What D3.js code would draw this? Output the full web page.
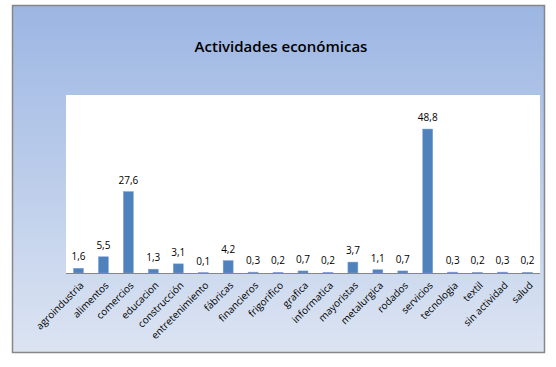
<!DOCTYPE html>
<meta charset="utf-8">
<script src="https://cdn.jsdelivr.net/npm/d3@7"></script>
<style>
body { margin: 0; background: #fff; }
text { font-family: "Open Sans", sans-serif; fill: #000; }
</style>
<body>
<script>

var categorias = ["agroindustria", "alimentos", "comercios", "educacion", "construcción",
  "entretenimiento", "fábricas", "financieros", "frigorifico", "grafica", "informatica",
  "mayoristas", "metalurgica", "rodados", "servicios", "tecnologia", "textil",
  "sin actividad", "salud"];
var valores = [1.6, 5.5, 27.6, 1.3, 3.1, 0.1, 4.2, 0.3, 0.2, 0.7, 0.2, 3.7, 1.1, 0.7, 48.8, 0.3, 0.2, 0.3, 0.2];
var titulo = "Actividades económicas";

var width = 556, height = 367;
var plot = {left: 66, right: 540, top: 95, bottom: 273};

var svg = d3.select("body").append("svg")
    .attr("width", width)
    .attr("height", height);

var grad = svg.append("defs").append("linearGradient")
    .attr("id", "bg")
    .attr("x1", 0).attr("y1", 0).attr("x2", 0).attr("y2", 1);
grad.append("stop").attr("offset", "0%").attr("stop-color", "#9cb6e3");
grad.append("stop").attr("offset", "100%").attr("stop-color", "#dce4f2");

// chart area
svg.append("rect")
    .attr("x", 12.5).attr("y", 5.5)
    .attr("width", 532).attr("height", 347)
    .attr("fill", "url(#bg)")
    .attr("stroke", "#878787")
    .attr("stroke-width", 1.5);

// plot area
svg.append("rect")
    .attr("x", plot.left).attr("y", plot.top)
    .attr("width", plot.right - plot.left).attr("height", plot.bottom - plot.top)
    .attr("fill", "#fff");

svg.append("text")
    .attr("x", 281)
    .attr("y", 52)
    .attr("text-anchor", "middle")
    .style("font-size", "15px")
    .style("font-weight", "600")
    .text(titulo);

var x = d3.scaleBand()
    .domain(categorias)
    .range([plot.left, plot.right])
    .paddingInner(0.6)
    .paddingOuter(0.3);

var y = d3.scaleLinear()
    .domain([0, 60])
    .range([plot.bottom, plot.bottom - 177]);

var datos = categorias.map(function(c, i) { return {cat: c, val: valores[i]}; });

svg.append("g")
  .selectAll("rect")
  .data(datos)
  .enter().append("rect")
    .attr("x", function(d) { return x(d.cat); })
    .attr("y", function(d) { return y(d.val); })
    .attr("width", x.bandwidth())
    .attr("height", function(d) { return y(0) - y(d.val); })
    .attr("fill", "#4f81bd")
    .attr("stroke", "#7ea3d4")
    .attr("stroke-width", 0.5);

// data labels
svg.append("g")
  .selectAll("text")
  .data(datos)
  .enter().append("text")
    .attr("x", function(d) { return x(d.cat) + x.bandwidth() / 2; })
    .attr("y", function(d) { return y(d.val) - 8; })
    .attr("text-anchor", "middle")
    .style("font-size", "10px")
    .text(function(d) { return d3.format(".1f")(d.val).replace(".", ","); });

// x axis
var xAxis = svg.append("g")
    .attr("transform", "translate(0," + plot.bottom + ")")
    .call(d3.axisBottom(x).tickSize(0).tickPadding(0));

xAxis.select(".domain")
    .attr("stroke", "#868686")
    .attr("d", "M" + plot.left + ",0.5H" + plot.right);

xAxis.selectAll("text")
    .style("font-family", "'Open Sans', sans-serif")
    .style("font-size", "10px")
    .attr("fill", "#000")
    .attr("dy", null)
    .attr("y", 0)
    .attr("text-anchor", "end")
    .attr("transform", "translate(6,13) rotate(-45)");

</script>
</body>
</html>
